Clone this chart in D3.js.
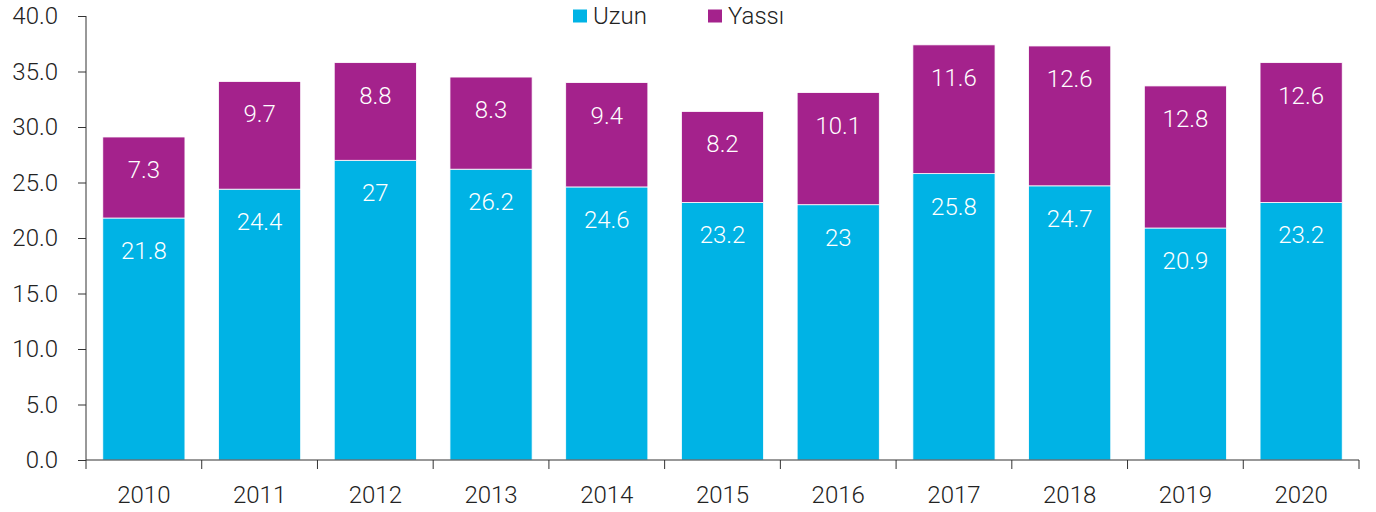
<!DOCTYPE html>
<html><head><meta charset="utf-8">
<script src="https://cdn.jsdelivr.net/npm/d3@7"></script>
<style>body{margin:0;background:#fff;} svg{display:block;} svg text{font-family:Roboto,"Liberation Sans",Arial,sans-serif;font-weight:300;}</style>
</head><body><svg id="c" width="1376" height="512"></svg>
<script>
const years = ["2010","2011","2012","2013","2014","2015","2016","2017","2018","2019","2020"];
const uzun = [21.8,24.4,27,26.2,24.6,23.2,23,25.8,24.7,20.9,23.2];
const yassi = [7.3,9.7,8.8,8.3,9.4,8.2,10.1,11.6,12.6,12.8,12.6];
const yTicks = [0,5,10,15,20,25,30,35,40];
const seriesNames = ["Uzun","Yassı"];
const colors = ["#00B3E5","#A4228C"];

const svg = d3.select("#c");
const x = d3.scaleBand().domain(years).range([86,1359]).paddingInner(0.29).paddingOuter(0.145);
const y = d3.scaleLinear().domain([0,40]).range([460,16]);

const data = years.map((yr,i)=>({year:yr,Uzun:uzun[i],"Yassı":yassi[i]}));
const stacked = d3.stack().keys(seriesNames)(data);

const g = svg.append("g");
stacked.forEach((s,si)=>{
  g.selectAll(null).data(s).enter().append("rect")
    .attr("x",d=>x(d.data.year)).attr("width",x.bandwidth())
    .attr("y",d=>y(d[1])).attr("height",d=>y(d[0])-y(d[1]))
    .attr("fill",colors[si]).attr("stroke","#fff").attr("stroke-width",0.8);
  g.selectAll(null).data(s).enter().append("text")
    .attr("x",d=>x(d.data.year)+x.bandwidth()/2)
    .attr("y",d=>y(d[1])+41)
    .attr("text-anchor","middle")
    .attr("fill","#fff").attr("font-size",24)
    .text(d=>String(+(d[1]-d[0]).toFixed(1)));
});

// y axis
const ya = svg.append("g").attr("transform","translate(86,0)")
  .call(d3.axisLeft(y).tickValues(yTicks).tickFormat(d3.format(".1f")).tickSize(8).tickPadding(20));
ya.attr("font-family",null).attr("font-size",null);
ya.selectAll("text").attr("font-size",24).attr("fill","#222");
ya.selectAll("line,path").attr("stroke","#333");
ya.select(".domain").attr("d","M0,16V460");

// x axis with ticks at band boundaries
const xa = svg.append("g").attr("transform","translate(0,460)");
xa.append("line").attr("x1",86).attr("x2",1359).attr("stroke","#333");
const bounds = years.map(yr=>x(yr)-x.step()*x.paddingInner()/2);
bounds.push(1359);
bounds[0]=86;
xa.selectAll(null).data(bounds).enter().append("line")
  .attr("x1",d=>d).attr("x2",d=>d).attr("y1",0).attr("y2",9).attr("stroke","#333");
xa.selectAll(null).data(years).enter().append("text")
  .attr("x",d=>x(d)+x.bandwidth()/2).attr("y",43).attr("text-anchor","middle")
  .attr("font-size",24).attr("fill","#222").text(d=>d);

// legend
const leg = svg.append("g");
const legX = [573,708];
seriesNames.forEach((n,i)=>{
  leg.append("rect").attr("x",legX[i]).attr("y",9.5).attr("width",14).attr("height",13).attr("fill",colors[i]);
  leg.append("text").attr("x",legX[i]+20).attr("y",24).attr("font-size",24).attr("fill","#222").text(n);
});
</script></body></html>
